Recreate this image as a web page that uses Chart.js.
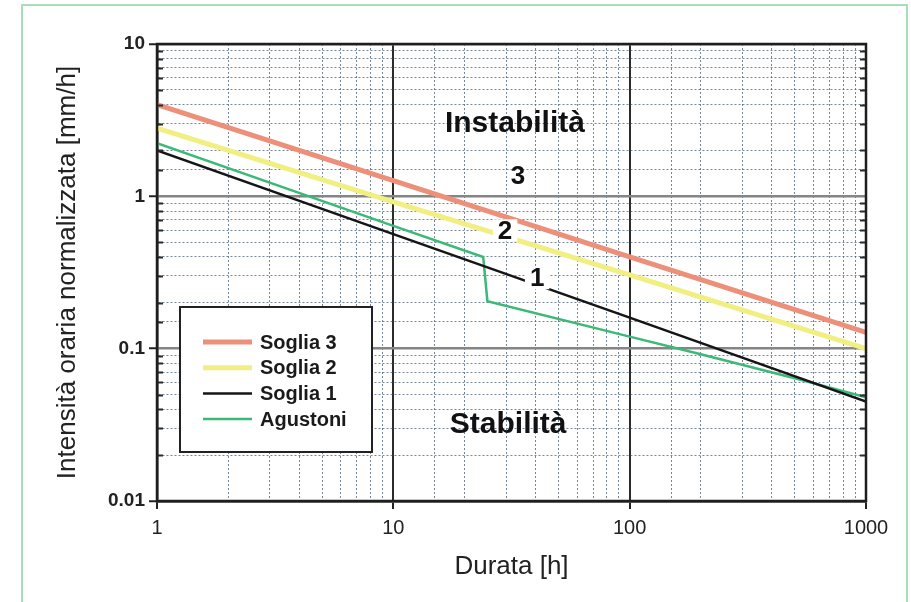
<!DOCTYPE html>
<html><head><meta charset="utf-8">
<script src="https://cdn.jsdelivr.net/npm/chart.js@4.4.1/dist/chart.umd.min.js"></script>
<style>
html,body{margin:0;padding:0;background:#fff;overflow:hidden;}
#wrap{position:relative;width:911px;height:602px;}
#frame{position:absolute;left:21px;top:4px;width:887px;height:640px;border:2px solid #a9dcb9;box-sizing:border-box;pointer-events:none;}
canvas{position:absolute;left:0;top:0;}
</style></head><body>
<div id="wrap"><canvas id="c" width="911" height="602"></canvas><div id="frame"></div></div>
<script>
// ---- data ----
const seriesNames = ['Soglia 3', 'Soglia 2', 'Soglia 1', 'Agustoni'];
const thresholdDurations = [1, 10, 100, 1000];
const soglia3 = [4.0, 1.27, 0.40, 0.128];
const soglia2 = [2.8, 0.92, 0.305, 0.10];
const soglia1 = [2.0, 0.565, 0.16, 0.045];
const agustoniDurations = [1, 10, 24, 25, 100, 200, 500, 1000];
const agustoni = [2.23, 0.64, 0.40, 0.205, 0.12, 0.092, 0.064, 0.048];
const xTickLabels = ['1', '10', '100', '1000'];
const yTickLabels = ['0.01', '0.1', '1', '10'];
const regionLabels = ['Instabilità', 'Stabilità'];
const thresholdLabels = ['3', '2', '1'];

const FAM = '"Liberation Sans", Arial, Helvetica, sans-serif';
const pts = (xs, ys) => xs.map((x, i) => ({x: x, y: ys[i]}));
const isMajor = v => Math.abs(Math.log10(v) - Math.round(Math.log10(v))) < 1e-6;
const decade = v => Math.round(Math.log10(v));

const annotations = {
  id: 'annotations',
  afterDatasetsDraw(chart) {
    const {ctx, scales: {x, y}} = chart;
    const items = [
      {text: regionLabels[0], dx: 32.7, dy: 3.06, size: 30, bg: false},
      {text: thresholdLabels[0], dx: 33.7, dy: 1.37, size: 26, bg: false},
      {text: thresholdLabels[1], dx: 29.7, dy: 0.598, size: 26, bg: true},
      {text: thresholdLabels[2], dx: 40.6, dy: 0.29, size: 26, bg: true},
      {text: regionLabels[1], dx: 30.6, dy: 0.0322, size: 30, bg: false}
    ];
    ctx.save();
    ctx.textAlign = 'center';
    ctx.textBaseline = 'middle';
    items.forEach(it => {
      const px = x.getPixelForValue(it.dx), py = y.getPixelForValue(it.dy);
      ctx.font = 'bold ' + it.size + 'px ' + FAM;
      if (it.bg) {
        const w = ctx.measureText(it.text).width + 10;
        ctx.fillStyle = '#ffffff';
        ctx.fillRect(px - w / 2, py - 11, w, 22);
      }
      ctx.fillStyle = '#111';
      ctx.fillText(it.text, px, py + 1);
    });
    ctx.restore();
  }
};

const frameAndLegend = {
  id: 'frameAndLegend',
  afterDraw(chart) {
    const {ctx, chartArea: a, scales: {y}} = chart;
    ctx.save();
    ctx.strokeStyle = '#2a2a2a';
    ctx.lineWidth = 2;
    y.ticks.forEach(t => {
      if (isMajor(t.value)) return;
      const py = Math.round(y.getPixelForValue(t.value)) + 0.5;
      ctx.beginPath();
      ctx.moveTo(a.left, py); ctx.lineTo(a.left + 6, py);
      ctx.moveTo(a.right - 6, py); ctx.lineTo(a.right, py);
      ctx.stroke();
    });
    ctx.lineWidth = 2.5;
    ctx.strokeStyle = '#1e1e1e';
    ctx.strokeRect(a.left, a.top, a.right - a.left, a.bottom - a.top);
    const bx = a.left + 23, by = a.top + 263, bw = 192, bh = 145;
    ctx.fillStyle = '#ffffff';
    ctx.fillRect(bx, by, bw, bh);
    ctx.lineWidth = 2;
    ctx.strokeStyle = '#222';
    ctx.strokeRect(bx, by, bw, bh);
    ctx.font = 'bold 20px ' + FAM;
    ctx.textAlign = 'left';
    ctx.textBaseline = 'middle';
    chart.data.datasets.forEach((ds, i) => {
      const ry = by + 35 + i * 25.7;
      ctx.strokeStyle = ds.borderColor;
      ctx.lineWidth = ds.borderWidth;
      ctx.beginPath();
      ctx.moveTo(bx + 23, ry); ctx.lineTo(bx + 72, ry);
      ctx.stroke();
      ctx.fillStyle = '#1a1a1a';
      ctx.fillText(ds.label, bx + 80, ry + 1);
    });
    ctx.restore();
  }
};

const minorDash = [2, 2];
const minorColor = 'rgba(70,95,120,0.75)';

new Chart(document.getElementById('c'), {
  type: 'line',
  data: {
    datasets: [
      {label: seriesNames[0], data: pts(thresholdDurations, soglia3), borderColor: '#ec907a', borderWidth: 5},
      {label: seriesNames[1], data: pts(thresholdDurations, soglia2), borderColor: '#f1ef82', borderWidth: 5},
      {label: seriesNames[2], data: pts(thresholdDurations, soglia1), borderColor: '#151515', borderWidth: 2.5},
      {label: seriesNames[3], data: pts(agustoniDurations, agustoni), borderColor: '#3cb877', borderWidth: 2.5}
    ]
  },
  options: {
    responsive: false,
    animation: false,
    devicePixelRatio: 1,
    layout: {padding: {left: 28, right: 45, top: 44, bottom: 10}},
    elements: {point: {radius: 0}, line: {tension: 0, borderCapStyle: 'butt'}},
    plugins: {legend: {display: false}, tooltip: {enabled: false}},
    scales: {
      x: {
        type: 'logarithmic', min: 1, max: 1000, position: 'bottom',
        afterFit: s => { s.height = 91; },
        ticks: {
          autoSkip: false, maxRotation: 0, minRotation: 0, padding: 7,
          color: '#222', font: {family: FAM, size: 20},
          callback: v => isMajor(v) ? xTickLabels[decade(v)] : ''
        },
        grid: {
          color: c => (c.tick && isMajor(c.tick.value)) ? '#2b2b2b' : minorColor,
          lineWidth: c => (c.tick && isMajor(c.tick.value)) ? 2 : 1,
          tickColor: c => (c.tick && isMajor(c.tick.value)) ? '#222' : 'rgba(0,0,0,0)',
          tickLength: 8, tickWidth: 2
        },
        border: {display: true, color: '#1e1e1e', width: 2.5,
          dash: c => (c.tick && !isMajor(c.tick.value)) ? minorDash : []},
        title: {display: true, text: 'Durata [h]', color: '#222', font: {family: FAM, size: 26}, padding: {top: 0, bottom: 10}}
      },
      y: {
        type: 'logarithmic', min: 0.01, max: 10,
        afterFit: s => { s.width = 129; },
        ticks: {
          autoSkip: false, padding: 4,
          color: '#222', font: {family: FAM, size: 19, weight: 'bold'},
          callback: v => isMajor(v) ? yTickLabels[decade(v) + 2] : ''
        },
        grid: {
          color: c => (c.tick && isMajor(c.tick.value)) ? '#858585' : minorColor,
          lineWidth: c => (c.tick && isMajor(c.tick.value)) ? 2.5 : 1,
          tickColor: c => (c.tick && isMajor(c.tick.value)) ? '#222' : 'rgba(0,0,0,0)',
          tickLength: 8, tickWidth: 2
        },
        border: {display: true, color: '#1e1e1e', width: 2.5,
          dash: c => (c.tick && !isMajor(c.tick.value)) ? minorDash : []},
        title: {display: true, text: 'Intensità oraria normalizzata [mm/h]', color: '#222', font: {family: FAM, size: 26}, padding: {top: 24, bottom: 0}}
      }
    }
  },
  plugins: [annotations, frameAndLegend]
});
</script>
</body></html>
